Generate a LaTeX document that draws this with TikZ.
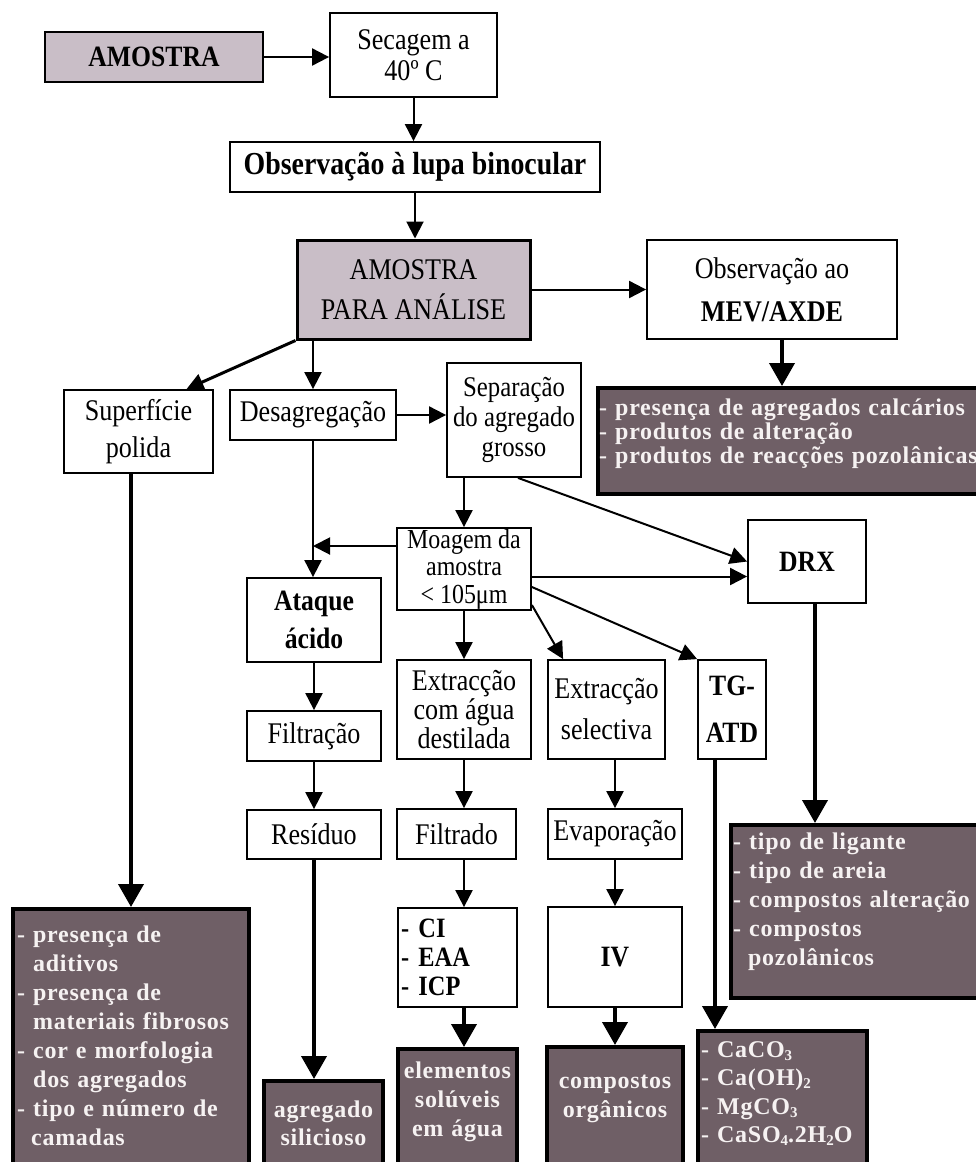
\documentclass[tikz,border=0pt]{standalone}
\usepackage{fontspec}
\setmainfont{Liberation Serif}
\newfontfamily\bxf{Liberation Serif}[FakeStretch=0.87]
\newfontfamily\wtf{Liberation Serif}[LetterSpace=3]
\usetikzlibrary{arrows.meta}
\definecolor{lilac}{HTML}{C9BEC7}
\definecolor{darkm}{HTML}{6F5F66}
\definecolor{wtxt}{HTML}{F6F2F2}
\newcommand\sbs[1]{\raisebox{-3pt}{\fontsize{15}{15}\selectfont #1}}
\begin{document}
\begin{tikzpicture}[x=1pt,y=-1pt,
 wbox/.style={draw, line width=1.8pt, fill=white, inner sep=0pt, align=center, text=black},
 fs/.style={font=\bxf\fontsize{30}{#1}\selectfont},
 bf/.style={font=\bxf\bfseries\fontsize{29.5}{#1}\selectfont},
 lbox/.style={wbox, fill=lilac},
 dbox/.style={draw, line width=4pt, fill=darkm, inner sep=0pt},
 wt/.style={text=wtxt, inner sep=0pt, font=\wtf\bfseries\fontsize{24}{#1}\selectfont},
 arr/.style={line width=2pt, -{Triangle[length=17pt,width=17pt]}},
 tarr/.style={line width=4pt, -{Triangle[length=23pt,width=25pt]}},
]
\fill[white] (0,0) rectangle (976,1162);
\useasboundingbox (0,0) rectangle (976,1162);

% top part
\node[lbox, line width=2.5pt, minimum width=218pt, minimum height=50pt, bf=28] (am) at (154,57) {AMOSTRA};
\node[wbox, minimum width=167pt, minimum height=84pt, fs=31] (sec) at (413.5,55) {Secagem a\\40º C};
\node[wbox, minimum width=370pt, minimum height=50pt, font=\bxf\bfseries\fontsize{32}{30}\selectfont] (lupa) at (415,167) {Observação à lupa binocular};
\node[lbox, line width=3pt, minimum width=233pt, minimum height=99pt, fs=40] (apa) at (413.5,289.5) {AMOSTRA\\PARA ANÁLISE};
\node[wbox, minimum width=250pt, minimum height=99pt, fs=43] (mev) at (772,289.5) {Observação ao\\\textbf{MEV/AXDE}};
\node[dbox, minimum width=387pt, minimum height=106pt] (mevres) at (791.5,441) {};
\node[wt=24, anchor=base west, text width=380pt, align=left] (mevrest) at (599,415) {- presença de agregados calcários\\- produtos de alteração\\- produtos de reacções pozolânicas};

% middle
\node[wbox, minimum width=149pt, minimum height=83pt, fs=37] (sup) at (138.5,431.5) {Superfície\\polida};
\node[wbox, minimum width=166pt, minimum height=50pt, fs=28] (desag) at (313,415) {Desagregação};
\node[wbox, minimum width=134pt, minimum height=114pt, font=\bxf\fontsize{28.5}{30}\selectfont] (sep) at (514,420) {Separação\\do agregado\\grosso};
\node[wbox, minimum width=134pt, minimum height=82pt, font=\bxf\fontsize{27.5}{27.5}\selectfont] (moag) at (464,569) {Moagem da\\amostra\\< 105μm};
\node[wbox, minimum width=118pt, minimum height=83pt, bf=28] (drx) at (807,561.5) {DRX};
\node[wbox, minimum width=134pt, minimum height=84pt, bf=38] (ataq) at (314,620) {Ataque\\ácido};
\node[wbox, minimum width=134pt, minimum height=50pt, fs=28] (filt1) at (314,736) {Filtração};
\node[wbox, minimum width=134pt, minimum height=49pt, fs=28] (res) at (314,834.5) {Resíduo};
\node[wbox, minimum width=134pt, minimum height=99pt, fs=29] (ext) at (464,709.5) {Extracção\\com água\\destilada};
\node[wbox, minimum width=117pt, minimum height=99pt, fs=41] (sel) at (606.5,709.5) {Extracção\\selectiva};
\node[wbox, minimum width=68pt, minimum height=99pt, bf=47] (tg) at (732,709.5) {TG-\\ATD};
\node[wbox, minimum width=119pt, minimum height=50pt, fs=28] (filt) at (456.5,834) {Filtrado};
\node[wbox, minimum width=134pt, minimum height=50pt, fs=28] (evap) at (615,834) {Evaporação};
\node[wbox, minimum width=119pt, minimum height=99pt, text width=113pt, align=left, font=\bxf\bfseries\fontsize{28}{29}\selectfont] (ci) at (457.5,957.5) {- CI\\- EAA\\- ICP};
\node[wbox, minimum width=134pt, minimum height=100pt, bf=28] (iv) at (615,957) {IV};

% dark result boxes
\node[dbox, minimum width=254pt, minimum height=173pt] (lig) at (858,911.5) {};
\node[wt=29, anchor=base west, text width=250pt, align=left] (ligt) at (733,849) {- tipo de ligante\\- tipo de areia\\- compostos alteração\\- compostos\\\hspace*{15pt}pozolânicos};
\node[dbox, minimum width=236pt, minimum height=257pt] (ldark) at (131,1037.5) {};
\node[wt=29, anchor=base west, text width=230pt, align=left] (ldarkt) at (17,942) {- presença de\\\hspace*{16pt}aditivos\\- presença de\\\hspace*{16pt}materiais fibrosos\\- cor e morfologia\\\hspace*{16pt}dos agregados\\- tipo e número de\\\hspace*{14pt}camadas};
\node[dbox, minimum width=119pt, minimum height=85pt] (sil) at (323.5,1123.5) {};
\node[wt=28, anchor=base, text width=115pt, align=center] (silt) at (323.5,1117) {agregado\\silicioso};
\node[dbox, minimum width=119pt, minimum height=117pt] (elem) at (457.5,1107.5) {};
\node[wt=29, anchor=base, text width=117pt, align=center] (elemt) at (457.5,1078) {elementos\\solúveis\\em água};
\node[dbox, minimum width=136pt, minimum height=119pt] (org) at (615,1106.5) {};
\node[wt=29, anchor=base, text width=130pt, align=center] (orgt) at (615,1088) {compostos\\orgânicos};
\node[dbox, minimum width=169pt, minimum height=135pt] (caco) at (782.5,1098.5) {};
\node[wt=28.5, anchor=base west, text width=165pt, align=left] (cacot) at (701,1057) {- CaCO\sbs{3}\\- Ca(OH)\sbs{2}\\- MgCO\sbs{3}\\- CaSO\sbs{4}.2H\sbs{2}O};

% helper coordinates
\coordinate (supin) at ([xshift=48pt]sup.north);
\coordinate (mwest) at ([yshift=23pt]moag.west);
\coordinate (sepout) at ([xshift=4pt]sep.south);
\coordinate (drxin) at ([yshift=-15pt]drx.west);
\coordinate (mtg) at ([yshift=-18pt]moag.east);
\coordinate (msel) at ([yshift=-36pt]moag.east);
\coordinate (selin) at ([xshift=16pt]sel.north west);
\coordinate (tgo) at ([xshift=-17pt]tg.south);
\coordinate (drxo) at ([xshift=8pt]drx.south);
\coordinate (mevo) at ([xshift=10pt]mev.south);

% connectors
\draw[arr] (am.east) -- (am.east -| sec.west);
\draw[arr] (sec.south) -- (sec.south |- lupa.north);
\draw[arr] (lupa.south) -- (lupa.south |- apa.north);
\draw[arr] (apa.east) -- (mev.west);
\draw[tarr] (mevo) -- (mevo |- mevres.north);
\draw[arr, line width=3pt] (apa.south west) -- (supin);
\draw[arr] (desag.north |- apa.south) -- (desag.north);
\draw[arr] (desag.east) -- (desag.east -| sep.west);
\draw[arr] (moag.north |- sep.south) -- (moag.north);
\draw[arr] (sepout) -- (drx.west);
\draw[arr] (moag.east |- drxin) -- (drxin);
\draw[arr] (mwest) -- (mwest -| desag.south);
\draw[arr] (desag.south) -- (desag.south |- ataq.north);
\draw[arr] (moag.south) -- (ext.north);
\draw[arr] (msel) -- (selin);
\draw[arr] (mtg) -- (tg.north west);
\draw[arr] (ataq.south) -- (filt1.north);
\draw[arr] (filt1.south) -- (res.north);
\draw[tarr] (res.south) -- (res.south |- sil.north);
\draw[arr] (ext.south) -- (ext.south |- filt.north);
\draw[arr] (ext.south |- filt.south) -- (ext.south |- ci.north);
\draw[tarr] (ext.south |- ci.south) -- (ext.south |- elem.north);
\draw[arr] (evap.north |- sel.south) -- (evap.north);
\draw[arr] (evap.south) -- (iv.north);
\draw[tarr] (iv.south) -- (org.north);
\draw[tarr] (tgo) -- (tgo |- caco.north);
\draw[tarr] (drxo) -- (drxo |- lig.north);
\draw[tarr] (ldark.north |- sup.south) -- (ldark.north);
\end{tikzpicture}
\end{document}
